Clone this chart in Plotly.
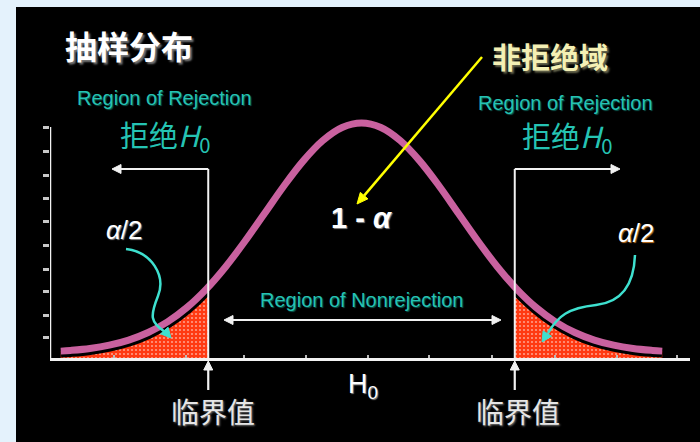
import math
import plotly.graph_objects as go

# ---------------- data ----------------
z_vals = [-3.1, -3.0, -2.8, -2.6, -2.4, -2.2, -2.0, -1.8, -1.6, -1.4, -1.2, -1.0,
          -0.8, -0.6, -0.4, -0.2, 0.0, 0.2, 0.4, 0.6, 0.8, 1.0, 1.2, 1.4, 1.6,
          1.8, 2.0, 2.2, 2.4, 2.6, 2.8, 3.0, 3.1]
curve_y = [0.0298, 0.0328, 0.0414, 0.0555, 0.0775, 0.1102, 0.1564, 0.2187, 0.2985,
           0.3953, 0.5063, 0.6255, 0.7447, 0.8533, 0.9408, 0.9976, 1.017, 0.9976,
           0.9408, 0.8533, 0.7447, 0.6255, 0.5063, 0.3953, 0.2985, 0.2187, 0.1564,
           0.1102, 0.0775, 0.0555, 0.0414, 0.0328, 0.0298]
crit_z = [-1.58, 1.58]
left_tail_x = [-3.1, -3.0, -2.8, -2.6, -2.4, -2.2, -2.0, -1.8, -1.58]
left_tail_y = [0.0298, 0.0328, 0.0414, 0.0555, 0.0775, 0.1102, 0.1564, 0.2187, 0.3074]
right_tail_x = [1.58, 1.8, 2.0, 2.2, 2.4, 2.6, 2.8, 3.0, 3.1]
right_tail_y = [0.3074, 0.2187, 0.1564, 0.1102, 0.0775, 0.0555, 0.0414, 0.0328, 0.0298]
y_ticks = [0.087, 0.186, 0.286, 0.385, 0.485, 0.589, 0.69, 0.792, 0.892, 1.0]
x_ticks = [-2.55, -1.81, -1.21, -0.57, 0.07, 0.70, 1.35, 1.99, 2.63, 3.25]

# ---------------- helpers for decoration placement ----------------
def X(px):   # image pixel -> data x
    return (px - 361.5) / 97.0


def Y(py):   # image pixel -> data y
    return (358.0 - py) / 231.0


def PX(px):  # image pixel -> paper x
    return (px - 50) / 640.0


def PY(py):  # image pixel -> paper y
    return (358.0 - py) / 258.0


def cpx(z):  # data x -> image pixel
    return 361.5 + 97.0 * z


CJK = "Noto Sans CJK SC"
LAT = "Liberation Sans, Arial, sans-serif"
CYAN_TXT = "#25c3b3"
CYAN_ARR = "#3ee0cf"
PINK = "#c9619f"
WHITE = "#f2f2f2"

fig = go.Figure()

pattern = dict(shape=".", bgcolor="#ff3a12", fgcolor="#ffffff", size=4, solidity=0.22)
for tx, ty in [(left_tail_x, left_tail_y), (right_tail_x, right_tail_y)]:
    fig.add_trace(go.Scatter(x=tx, y=ty, mode="lines", line=dict(width=0, shape="spline"),
                             fill="tozeroy", fillpattern=pattern, hoverinfo="skip",
                             showlegend=False))

fig.add_trace(go.Scatter(x=z_vals, y=curve_y, mode="lines",
                         line=dict(color="#000000", width=13, shape="spline"),
                         hoverinfo="skip", showlegend=False))
fig.add_trace(go.Scatter(x=z_vals, y=curve_y, mode="lines",
                         line=dict(color=PINK, width=7, shape="spline"),
                         hoverinfo="skip", showlegend=False))

shapes = []
# black panel
shapes.append(dict(type="rect", xref="paper", yref="paper",
                   x0=PX(16), x1=PX(702), y0=PY(444), y1=PY(7),
                   fillcolor="#000000", line=dict(width=0), layer="below"))
# y-axis line
shapes.append(dict(type="line", xref="x", yref="y", x0=X(50), x1=X(50), y0=0, y1=1.0,
                   line=dict(color=WHITE, width=2.5)))
# critical value verticals
top = Y(169)
for c in crit_z:
    shapes.append(dict(type="line", xref="x", yref="y", x0=c, x1=c, y0=0, y1=top,
                       line=dict(color=WHITE, width=2)))
# cyan curly arrows
shapes.append(dict(type="path", xref="x", yref="y",
                   path=f"M {X(126)},{Y(249)} C {X(152)},{Y(252)} {X(166)},{Y(276)} {X(158)},{Y(296)} "
                        f"S {X(150)},{Y(322)} {X(165)},{Y(332)}",
                   line=dict(color=CYAN_ARR, width=2.5)))
shapes.append(dict(type="path", xref="x", yref="y",
                   path=f"M {X(635)},{Y(255)} C {X(634)},{Y(282)} {X(624)},{Y(302)} {X(596)},{Y(305)} "
                        f"S {X(558)},{Y(316)} {X(548)},{Y(333)}",
                   line=dict(color=CYAN_ARR, width=2.5)))


def head(hx, hy, tx, ty, color, L=9.0, W=4.5):
    dx, dy = hx - tx, hy - ty
    n = math.hypot(dx, dy)
    ux, uy = dx / n, dy / n
    bx, by = hx - ux * L, hy - uy * L
    nx, ny = -uy, ux
    p1 = (bx + nx * W, by + ny * W)
    p2 = (bx - nx * W, by - ny * W)
    shapes.append(dict(type="path", xref="paper", yref="paper",
                       path=f"M {PX(hx)},{PY(hy)} L {PX(p1[0])},{PY(p1[1])} "
                            f"L {PX(p2[0])},{PY(p2[1])} Z",
                       fillcolor=color, line=dict(color=color, width=1)))
    return bx, by


def arrow(hx, hy, tx, ty, color, width, both=False, L=9.0, W=4.5):
    bx, by = head(hx, hy, tx, ty, color, L, W)
    sx, sy = tx, ty
    if both:
        sx, sy = head(tx, ty, hx, hy, color, L, W)
    shapes.append(dict(type="line", xref="paper", yref="paper",
                       x0=PX(sx), y0=PY(sy), x1=PX(bx), y1=PY(by),
                       line=dict(color=color, width=width)))


# rejection arrows
arrow(112, 169, cpx(crit_z[0]), 169, WHITE, 2)
arrow(620, 169, cpx(crit_z[1]), 169, WHITE, 2)
# nonrejection double arrow
arrow(501, 320, 224, 320, WHITE, 2.2, both=True)
# critical value arrows below axis
for c in crit_z:
    arrow(cpx(c), 361, cpx(c), 390, WHITE, 2.2)
# yellow arrow
arrow(357, 204, 482, 57, "#ffff00", 2.5, L=11, W=5)
# cyan arrow heads
head(171, 338, 163, 329, CYAN_ARR, L=10, W=5)
head(542, 342, 549, 331, CYAN_ARR, L=10, W=5)

ann = []


def text(px, py, s, size, color, family, shadow="none", weight="normal"):
    ann.append(dict(x=PX(px), y=PY(py), xref="paper", yref="paper", text=s, showarrow=False,
                    xanchor="center", yanchor="middle",
                    font=dict(family=family, size=size, color=color, shadow=shadow,
                              weight=weight)))


text(129, 45, "抽样分布", 32, "#ffffff", CJK, shadow="2px 2px 2px #777777", weight="bold")
text(550, 56, "非拒绝域", 29, "#f4f0b4", CJK, shadow="2px 2px 2px #6a6a50", weight="bold")
text(164, 98, "Region of Rejection", 20, CYAN_TXT, LAT, shadow="1px 1px 1px #0d5b52")
text(565, 103, "Region of Rejection", 20, CYAN_TXT, LAT, shadow="1px 1px 1px #0d5b52")
text(165, 136, "拒绝<i>H</i><sub>0</sub>", 29, CYAN_TXT, CJK)
text(567, 137, "拒绝<i>H</i><sub>0</sub>", 29, CYAN_TXT, CJK)
text(361, 218, "<b>1 - <i>α</i></b>", 29, "#ffffff", LAT, shadow="1px 1px 1px #888888")
text(124, 230, "<i>α</i>/2", 26, "#ffffff", LAT, shadow="1px 1px 1px #888888")
text(636, 233, "<i>α</i>/2", 26, "#ffffff", LAT, shadow="1px 1px 1px #c07020")
text(361, 300, "Region of Nonrejection", 20, CYAN_TXT, LAT, shadow="1px 1px 1px #0d5b52")
text(363, 386, "H<sub>0</sub>", 27, "#ffffff", LAT, shadow="1px 1px 1px #888888")
text(213, 411, "临界值", 28, "#e6e6e6", CJK, shadow="1px 1px 2px #777777")
text(518, 411, "临界值", 28, "#e6e6e6", CJK, shadow="1px 1px 2px #777777")

fig.update_layout(
    width=700, height=442,
    margin=dict(l=50, r=10, t=100, b=84, pad=0),
    paper_bgcolor="#e4f2fc",
    plot_bgcolor="rgba(0,0,0,0)",
    shapes=shapes, annotations=ann,
    showlegend=False,
    xaxis=dict(range=[X(50), X(690)], showline=True, linecolor=WHITE, linewidth=2.5,
               ticks="inside", ticklen=3, tickwidth=2, tickcolor="#bbbbbb",
               tickvals=x_ticks, showticklabels=False, showgrid=False, zeroline=False,
               fixedrange=True),
    yaxis=dict(range=[0, Y(100)], showline=False, ticks="outside", ticklen=6, tickwidth=3,
               tickcolor="#c8c8c8", tickvals=y_ticks, showticklabels=False,
               showgrid=False, zeroline=False, fixedrange=True),
)

fig.write_html("out.html", config={"displayModeBar": False},
               post_script="document.body.style.margin='0';document.body.style.overflow='hidden';")
